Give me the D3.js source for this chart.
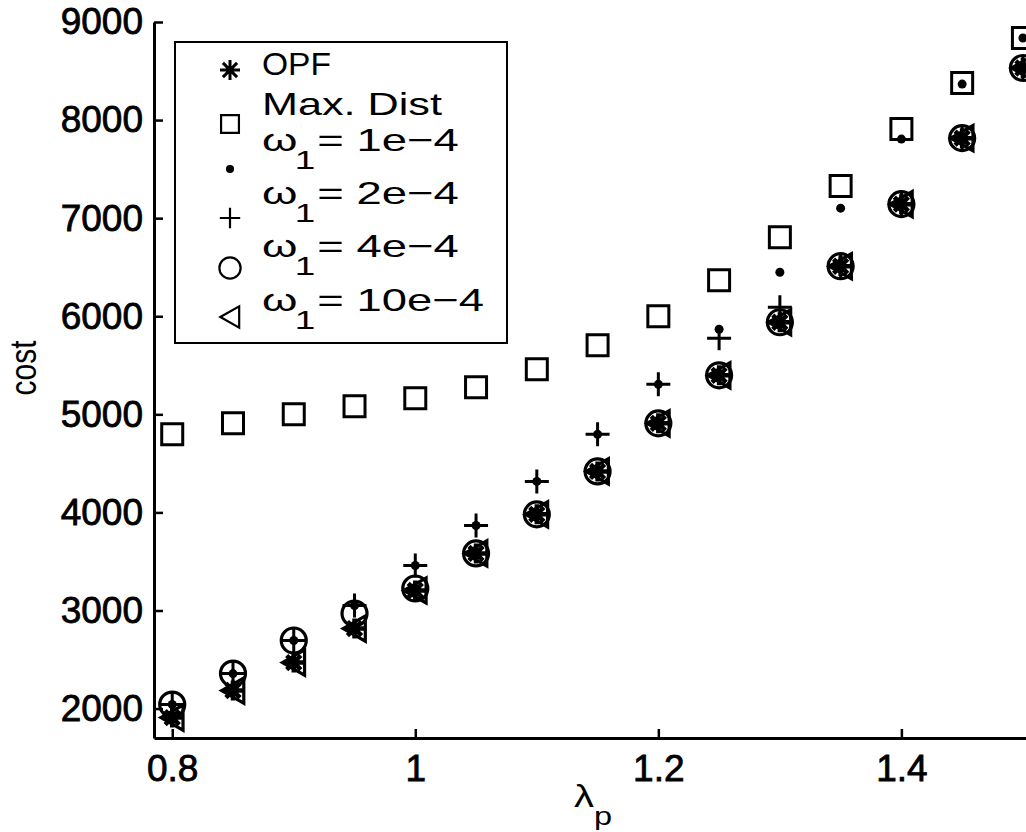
<!DOCTYPE html>
<html>
<head>
<meta charset="utf-8">
<script src="https://cdn.jsdelivr.net/npm/d3@7"></script>
<style>
  body { margin: 0; background: #fff; }
  svg { display: block; font-family: "Liberation Sans", Arial, sans-serif; }
</style>
</head>
<body>
<div id="chart"></div>
<script>
// data
const lambda = [0.8, 0.85, 0.9, 0.95, 1.0, 1.05, 1.1, 1.15, 1.2, 1.25, 1.3, 1.35, 1.4, 1.45, 1.5];
const costOPF = [1908, 2184, 2469, 2816, 3204, 3582, 3980, 4418, 4908, 5398, 5939, 6510, 7143, 7816, 8531];
const costMaxDist = [4796, 4908, 5000, 5082, 5163, 5276, 5459, 5704, 6000, 6367, 6806, 7327, 7908, 8378, 8837];
const costW1 = [2041, 2357, 2694, 3051, 3459, 3867, 4316, 4796, 5306, 5867, 6449, 7102, 7806, 8367, 8837];
const costW2 = [2041, 2357, 2694, 3051, 3459, 3867, 4316, 4796, 5306, 5776, 6092, 6510, 7143, 7816, 8531];
const costW4 = [2041, 2357, 2694, 2969, 3224, 3582, 3980, 4418, 4908, 5398, 5939, 6510, 7143, 7816, 8531];
const costW10 = [1908, 2184, 2469, 2816, 3204, 3582, 3980, 4418, 4908, 5398, 5939, 6510, 7143, 7816, 8531];

const seriesNames = ["OPF", "Max. Dist", "1e-4", "2e-4", "4e-4", "10e-4"];
const markers = ["star", "square", "dot", "plus", "circle", "triangle"];
const xTicks = [0.8, 1, 1.2, 1.4];
const yTicks = [2000, 3000, 4000, 5000, 6000, 7000, 8000, 9000];

const W = 1026, H = 832;
const FONT = 32;
const TICK_FONT = 37;

const svg = d3.select("#chart").append("svg")
  .attr("width", W)
  .attr("height", H);

svg.append("rect").attr("width", W).attr("height", H).attr("fill", "#fff");

const x = d3.scaleLinear().domain([0.785, 1.505]).range([154, 1029]);
const y = d3.scaleLinear().domain([1700, 9000]).range([738, 22]);

function markerPath(type, s) {
  if (type === "star") {
    const d = s * 0.7071;
    return `M${-s},0H${s}M0,${-s}V${s}M${-d},${-d}L${d},${d}M${-d},${d}L${d},${-d}`;
  }
  if (type === "square") return `M${-s},${-s}H${s}V${s}H${-s}Z`;
  if (type === "plus") return `M${-s},0H${s}M0,${-s}V${s}`;
  if (type === "triangle") return `M${-s * 0.95},0L${s * 0.9},${-s * 1.05}L${s * 0.9},${s * 1.05}Z`;
  // circle / dot
  return `M${s},0A${s},${s} 0 1,1 ${-s},0A${s},${s} 0 1,1 ${s},0Z`;
}

const markerSize = { star: 10, square: 10.5, dot: 4.5, plus: 12, circle: 12.5, triangle: 12 };
const markerStroke = { star: 4.5, square: 3, dot: 0, plus: 3, circle: 3.2, triangle: 3.2 };

const series = [costOPF, costMaxDist, costW1, costW2, costW4, costW10].map((vals, i) => ({
  name: seriesNames[i],
  marker: markers[i],
  points: lambda.map((l, j) => ({ l, c: vals[j] }))
}));

// axes
const xAxis = d3.axisBottom(x).tickValues(xTicks).tickFormat(d3.format("")).tickSizeInner(-9).tickSizeOuter(0).tickPadding(17);
const yAxis = d3.axisLeft(y).tickValues(yTicks).tickFormat(d3.format("d")).tickSizeInner(-9).tickSizeOuter(0).tickPadding(11);

const gx = svg.append("g").attr("transform", `translate(0,${y.range()[0]})`).call(xAxis);
const gy = svg.append("g").attr("transform", `translate(${x.range()[0]},0)`).call(yAxis);

[gx, gy].forEach(g => {
  g.select(".domain").attr("stroke", "#000").attr("stroke-width", 3);
  g.selectAll(".tick line").attr("stroke", "#000").attr("stroke-width", 2.5);
  g.selectAll(".tick text")
    .attr("fill", "#000")
    .attr("stroke", "#000")
    .attr("stroke-width", 0.8)
    .style("font-size", TICK_FONT + "px")
    .style("font-family", '"Liberation Sans", Arial, sans-serif');
});

// points
series.forEach(s => {
  const sz = markerSize[s.marker];
  svg.append("g").selectAll("path")
    .data(s.points)
    .join("path")
    .attr("transform", d => `translate(${x(d.l)},${y(d.c)})`)
    .attr("d", markerPath(s.marker, sz))
    .attr("fill", s.marker === "dot" ? "#000" : "none")
    .attr("stroke", s.marker === "dot" ? "none" : "#000")
    .attr("stroke-width", markerStroke[s.marker]);
});

// legend
const legend = svg.append("g");
legend.append("rect")
  .attr("x", 175).attr("y", 42).attr("width", 332).attr("height", 301)
  .attr("fill", "#fff").attr("stroke", "#000").attr("stroke-width", 2);

const legendMarkerY = [70, 124, 169, 218, 268, 317];
const legendTextY = [75, 115, 151, 204, 257, 311];
const legendStretch = [1.05, 1.35, 1.42, 1.42, 1.42, 1.42];

series.forEach((s, i) => {
  const sz = markerSize[s.marker] * (s.marker === "dot" ? 0.9 : 0.85);
  legend.append("path")
    .attr("transform", `translate(230,${legendMarkerY[i]})`)
    .attr("d", markerPath(s.marker, s.marker === "star" ? 10 : sz))
    .attr("fill", s.marker === "dot" ? "#000" : "none")
    .attr("stroke", s.marker === "dot" ? "none" : "#000")
    .attr("stroke-width", s.marker === "star" ? 3 : 2.2);

  const t = legend.append("text")
    .attr("transform", `translate(262,${legendTextY[i]}) scale(${legendStretch[i]},1)`)
    .style("font-size", FONT + "px");
  if (i < 2) {
    t.text(s.name);
  } else {
    t.append("tspan").attr("x", 0).text("ω");
    t.append("tspan").attr("x", 23).attr("dy", 18).style("font-size", "26px").text("1");
    t.append("tspan").attr("x", 39).attr("dy", -18).text("= " + s.name.replace("-", "−"));
  }
});

// axis titles
svg.append("text")
  .attr("transform", "translate(36,368) scale(1.2,1) rotate(-90)")
  .attr("text-anchor", "middle")
  .style("font-size", "30px")
  .text("cost");

const xl = svg.append("text")
  .attr("transform", "translate(574,807) scale(1.25,1)")
  .style("font-size", FONT + "px");
xl.append("tspan").text("λ");
xl.append("tspan").attr("dy", 18).style("font-size", "26px").text("p");
</script>
</body>
</html>
